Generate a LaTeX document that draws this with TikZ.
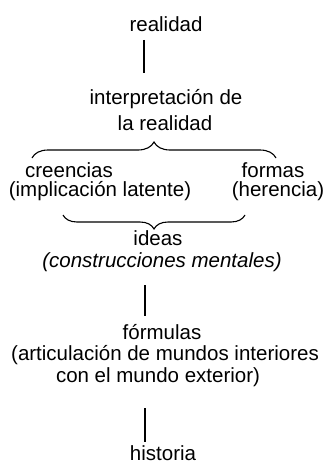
\documentclass[tikz,border=0pt]{standalone}
\usepackage{fontspec}
\setmainfont{Liberation Sans}
\usetikzlibrary{decorations.pathreplacing}
\begin{document}
\begin{tikzpicture}[x=1pt,y=1pt,
  lbl/.style={inner sep=0pt,anchor=base,font=\fontsize{20.5}{25}\selectfont},
  conn/.style={line width=1.2pt},
  brc/.style={line width=1.1pt,decorate,decoration={brace,amplitude=#1}}]
\useasboundingbox (0,0) rectangle (330,-468);
\node[lbl] (real) at (166,-32) {realidad};
\coordinate (l1a) at (144,-40);
\coordinate (l1b) at (144,-73);
\draw[conn] (l1a) -- (l1b);
\node[lbl] (interp1) at (166,-105) {interpretación de};
\node[lbl] (interp2) at (165,-130) {la realidad};
\coordinate (b1a) at (32,-158);
\coordinate (b1b) at (276,-158);
\draw[brc=16pt] (b1a) -- (b1b);
\node[lbl] (cre1) at (69,-177) {creencias};
\node[lbl] (cre2) at (100,-196) {(implicación latente)};
\node[lbl] (for1) at (273,-177) {formas};
\node[lbl] (for2) at (278,-196) {(herencia)};
\coordinate (b2a) at (245,-215);
\coordinate (b2b) at (63,-215);
\draw[brc=14pt] (b2a) -- (b2b);
\node[lbl] (ide1) at (158,-245) {ideas};
\node[lbl] (ide2) at (162,-267) {\itshape (construcciones mentales)};
\coordinate (l2a) at (145,-285);
\coordinate (l2b) at (145,-316);
\draw[conn] (l2a) -- (l2b);
\node[lbl] (fo1) at (162,-339) {fórmulas};
\node[lbl] (fo2) at (165,-360) {(articulación de mundos interiores};
\node[lbl] (fo3) at (158,-382) {con el mundo exterior)};
\coordinate (l3a) at (145,-408);
\coordinate (l3b) at (145,-442);
\draw[conn] (l3a) -- (l3b);
\node[lbl] (his) at (163,-460) {historia};
\end{tikzpicture}
\end{document}
